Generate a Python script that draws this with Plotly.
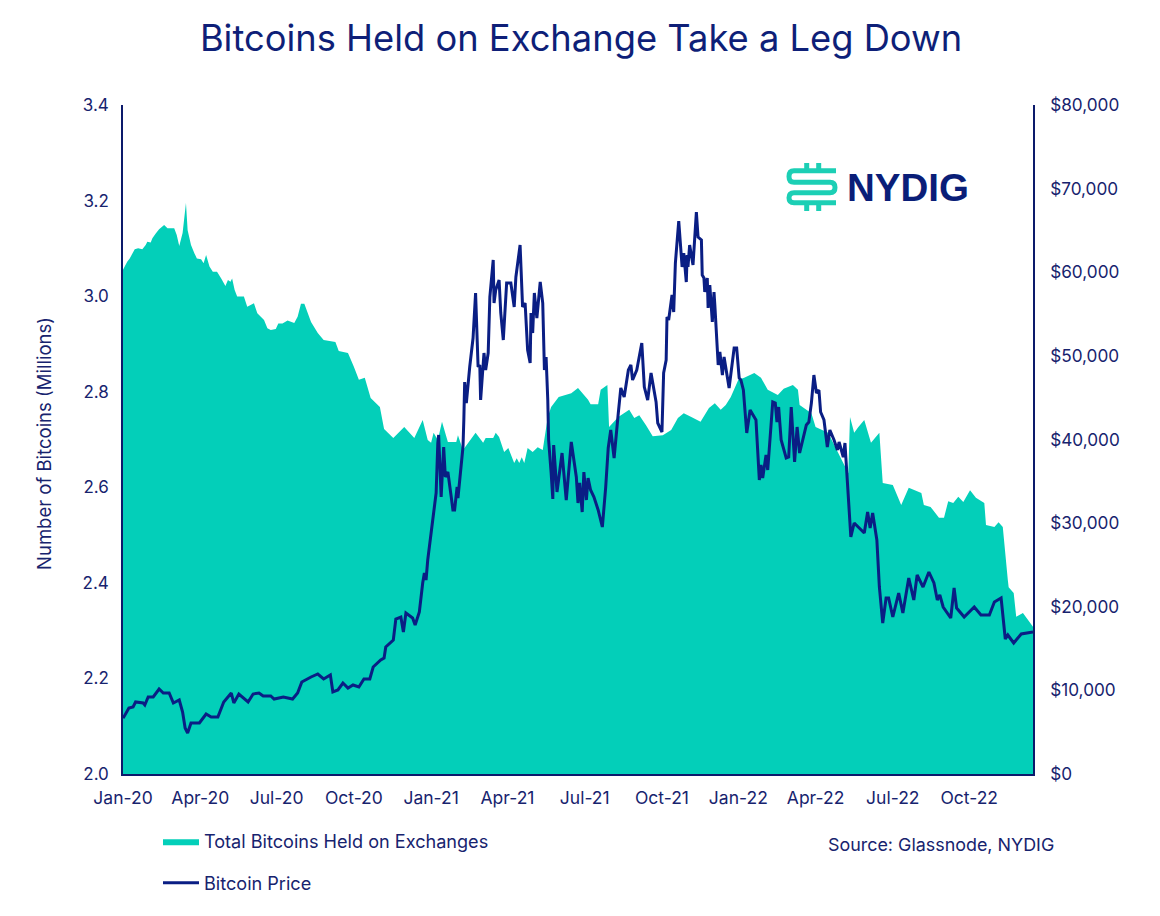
import numpy as np
import pandas as pd
import plotly.graph_objects as go

START = pd.Timestamp("2020-01-01")

hold_days = [0,2,5,8,10,14,18,23,27,29,33,35,39,43,49,53,56,61,64,67,71,75,77,81,85,88,93,96,99,103,107,112,117,122,125,128,130,133,136,144,148,152,156,160,164,168,172,176,182,185,190,196,204,208,212,216,
             224,232,239,253,257,268,275,281,288,295,306,311,322,335,347,357,363,
             367,370,375,380,384,387,397,399,405,411,420,429,432,441,444,448,454,459,466,469,472,475,478,482,488,494,500,504,506,510,
             519,534,542,554,557,566,569,577,579,590,603,609,615,623,631,643,653,661,668,677,688,698,705,712,718,724,733,740,752,760,768,780,787,798,804,806,820,825,840,852,861,864,866,871,876,883,891,901,905,917,927,936,951,954,962,972,978,983,989,995,1001,1009,1016,1026,1028,1038,1043,1048,1054,1055,1061,1064,1072,1084]
hold_btc = [3.055,3.062,3.072,3.079,3.086,3.098,3.100,3.098,3.107,3.114,3.112,3.121,3.131,3.140,3.149,3.142,3.142,3.142,3.128,3.105,3.132,3.195,3.138,3.107,3.090,3.079,3.077,3.069,3.086,3.062,3.051,3.051,3.037,3.021,3.034,3.030,3.037,3.013,2.999,2.999,2.978,2.981,2.985,2.964,2.957,2.950,2.933,2.929,2.931,2.943,2.943,2.949,2.944,2.957,2.984,2.984,
            2.946,2.923,2.908,2.904,2.885,2.881,2.852,2.825,2.829,2.787,2.768,2.722,2.703,2.726,2.703,2.741,2.699,
            2.693,2.714,2.699,2.737,2.714,2.695,2.695,2.709,2.678,2.693,2.714,2.693,2.703,2.703,2.714,2.705,2.674,2.682,2.651,2.661,2.651,2.663,2.651,2.682,2.674,2.684,2.678,2.724,2.747,2.768,
            2.789,2.797,2.808,2.783,2.774,2.774,2.804,2.814,2.726,2.747,2.762,2.745,2.751,2.730,2.707,2.709,2.720,2.745,2.755,2.747,2.737,2.766,2.776,2.762,2.772,2.789,2.825,2.829,2.839,2.829,2.804,2.793,2.806,2.814,2.804,2.772,2.755,2.726,2.714,2.672,2.642,2.630,2.747,2.714,2.726,2.741,2.693,2.714,2.609,2.605,2.563,2.599,2.588,2.563,2.559,2.536,2.536,2.571,2.567,2.580,2.569,2.594,2.578,2.567,2.521,2.517,2.527,2.517,2.406,2.391,2.379,2.329,2.337,2.308]

price_days = [0,1,7,12,15,24,26,30,36,43,48,55,60,67,71,74,77,81,91,99,105,113,120,129,132,138,149,155,162,167,176,180,191,202,208,213,224,232,239,247,250,256,262,268,274,281,287,294,298,307,311,313,322,325,331,334,337,345,348,353,357,359,361,363,
              370,373,375,376,379,382,384,387,391,393,395,398,399,404,405,
              406,407,409,411,413,417,420,423,425,426,430,432,435,437,441,442,444,448,450,453,455,457,462,466,468,472,473,476,479,482,485,486,488,490,493,497,500,502,504,
              506,507,510,512,513,517,523,528,534,540,542,544,547,549,552,554,557,561,566,571,575,578,581,585,590,
              593,597,602,605,607,612,618,621,625,629,635,637,642,644,
              647,648,650,654,656,658,662,666,668,671,672,673,675,679,683,685,689,690,692,693,696,697,699,702,704,705,709,711,714,716,722,728,731,734,736,
              739,743,747,754,758,760,762,766,768,774,777,779,781,784,790,793,796,800,803,806,814,817,820,823,826,829,831,835,839,842,847,851,853,858,860,862,864,
              865,867,871,883,887,890,893,898,901,905,909,912,917,924,929,936,942,946,953,960,966,970,973,977,986,990,993,1002,1014,1022,1032,1038,1046,1049,1051,1054,1061,1070,1084]
price_usd = [6700,6816,7892,8012,8610,8490,8251,9208,9208,10164,9686,9686,8490,8849,7414,5501,4903,6099,6099,7175,6816,6816,8610,9686,8490,9566,8610,9566,9686,9327,9327,8969,9208,8969,9686,11001,11599,11958,11360,11838,9806,10045,10882,10284,10643,10403,11360,11360,12795,13632,13871,15187,16024,18535,18774,16980,19252,18654,17817,19372,22840,24036,23199,25590,
             31210,33602,39581,40538,33124,39103,35515,36113,33124,31569,31569,34319,33004,37548,39103,
             42331,46875,44364,46875,48669,52137,57518,48669,48908,44723,50343,48310,50343,57040,61464,56322,57877,59073,55126,51898,55126,58714,58714,55844,59431,62660,63258,55844,56322,50702,49147,55126,52735,57518,54528,58833,56322,48310,49865,
             44723,39940,35994,32885,39342,33722,38385,32765,39701,35515,32406,34798,31330,36113,32765,35396,33961,33124,31569,29536,34319,38983,41135,37787,43168,
             46158,45082,48310,48908,47115,48310,51539,46277,44723,47952,44484,41973,40896,47952,
             49506,54648,54289,57279,55246,61105,66128,60627,62301,58833,62062,60627,63258,60866,67204,64214,63856,59670,59312,57638,59312,55724,58475,54050,57638,56083,48908,50463,47712,49865,46158,50941,50941,47354,47115,
             45919,40777,43527,42331,35157,36950,35396,38146,36352,44484,44364,42092,43886,39940,37787,37907,43886,37309,41494,38385,41733,42092,44364,47712,45560,45919,43288,42331,39103,41135,39940,38744,39701,37907,39581,35994,33961,
             30732,28340,30015,28819,31330,29417,31210,27982,22361,18057,21046,21046,18774,21644,19252,23438,20807,23796,22361,24155,22840,20807,21405,19970,18654,22242,19850,18774,19970,19013,19013,20568,21046,18057,16143,16622,15665,16741,16980]

assert len(hold_days) == len(hold_btc), (len(hold_days), len(hold_btc))
assert len(price_days) == len(price_usd), (len(price_days), len(price_usd))

tick_days = [0,92,183,275,367,458,550,642,733,825,917,1008]
tick_labels = ["Jan-20","Apr-20","Jul-20","Oct-20","Jan-21","Apr-21","Jul-21","Oct-21","Jan-22","Apr-22","Jul-22","Oct-22"]
btc_ticks = [2.0,2.2,2.4,2.6,2.8,3.0,3.2,3.4]
usd_ticks = [0,10000,20000,30000,40000,50000,60000,70000,80000]

def to_dates(days):
    return START + pd.to_timedelta(np.array(days), unit="D")

TEAL = "#03CFB9"
NAVY = "#0A1E84"
AXIS = "#0C1A6B"
TEXT = "#17236E"
FONT = "Inter"

fig = go.Figure()
fig.add_trace(go.Scatter(x=to_dates(hold_days), y=hold_btc, name="Total Bitcoins Held on Exchanges",
                         mode="lines", fill="tozeroy", fillcolor=TEAL, line=dict(color=TEAL, width=0),
                         legendgroup="a", yaxis="y", hoverinfo="skip"))
fig.add_trace(go.Scatter(x=to_dates(price_days), y=price_usd, name="Bitcoin Price",
                         mode="lines", line=dict(color=NAVY, width=3),
                         legendgroup="b", yaxis="y2", hoverinfo="skip"))

# logo mark (decoration, placed in pixel terms)
PW, PH = 910.0, 669.0
def px(x): return (x - 122) / PW
def py(y): return (774 - y) / PH
logo = []
segs = [
    f"M {px(835)} {py(170.7)} L {px(793)} {py(170.7)} Q {px(788)} {py(170.7)} {px(788)} {py(176.5)} Q {px(788)} {py(182.3)} {px(793)} {py(182.3)} "
    f"L {px(829)} {py(182.3)} Q {px(834)} {py(182.3)} {px(834)} {py(187.5)} Q {px(834)} {py(192.7)} {px(829)} {py(192.7)} "
    f"L {px(793)} {py(192.7)} Q {px(788)} {py(192.7)} {px(788)} {py(197.7)} Q {px(788)} {py(202.7)} {px(793)} {py(202.7)} L {px(835)} {py(202.7)}",
    f"M {px(805.7)} {py(163)} L {px(805.7)} {py(170.7)}",
    f"M {px(817.7)} {py(163)} L {px(817.7)} {py(170.7)}",
    f"M {px(805.7)} {py(202.7)} L {px(805.7)} {py(211)}",
    f"M {px(817.7)} {py(202.7)} L {px(817.7)} {py(211)}",
]
for s in segs:
    logo.append(dict(type="path", path=s, xref="paper", yref="paper",
                     line=dict(color="#1CCFB5", width=5), fillcolor="rgba(0,0,0,0)"))

fig.update_layout(
    width=1152, height=908, margin=dict(l=115, r=127, t=97, b=142, autoexpand=False),
    paper_bgcolor="white", plot_bgcolor="white",
    font=dict(family=FONT, color=TEXT, size=17),
    title=dict(text="Bitcoins Held on Exchange Take a Leg Down", x=(581-8)/1152, xanchor="center",
               y=1-(38-8)/908, yanchor="middle", font=dict(size=36.3, color="#0E1F78", family=FONT)),
    xaxis=dict(type="date", range=[START, START + pd.Timedelta(days=1084)], tickmode="array",
               tickvals=to_dates(tick_days), ticktext=tick_labels, showgrid=False, zeroline=False,
               showline=True, linecolor=AXIS, linewidth=1.5, ticks="", ticklabelstandoff=7,
               tickfont=dict(size=17.5)),
    yaxis=dict(range=[2.0, 3.4], tickmode="array", tickvals=btc_ticks, tickformat=".1f", showgrid=False,
               zeroline=False, showline=True, linecolor=AXIS, linewidth=1.5, ticks="", ticklabelstandoff=9,
               tickfont=dict(size=17)),
    yaxis2=dict(range=[0, 80000], overlaying="y", side="right", tickmode="array", tickvals=usd_ticks,
                tickformat="$,.0f", showgrid=False, zeroline=False, showline=True, linecolor=AXIS,
                linewidth=1.5, ticks="", ticklabelstandoff=12, tickfont=dict(size=17.2)),
    legend=dict(x=(157-122)/PW, y=(774-823)/PH, xanchor="left", yanchor="top", orientation="v",
                tracegroupgap=15, itemwidth=36, bgcolor="rgba(0,0,0,0)", font=dict(size=18.1, color=TEXT)),
    showlegend=True,
    shapes=logo,
    annotations=[
        dict(text="Number of Bitcoins (Millions)", xref="paper", yref="paper", x=px(43), y=py(444),
             textangle=-90, showarrow=False, xanchor="center", yanchor="middle", font=dict(size=18.5, color=TEXT)),
        dict(text="Source: Glassnode, NYDIG", xref="paper", yref="paper", x=px(1055), y=py(844),
             showarrow=False, xanchor="right", yanchor="middle", font=dict(size=17.9, color=TEXT)),
        dict(text="<b>NYDIG</b>", xref="paper", yref="paper", x=px(907), y=py(188),
             showarrow=False, xanchor="center", yanchor="middle",
             font=dict(size=38.5, color="#0A1E78", family="Liberation Sans")),
    ],
)
fig.write_html("out.html")
